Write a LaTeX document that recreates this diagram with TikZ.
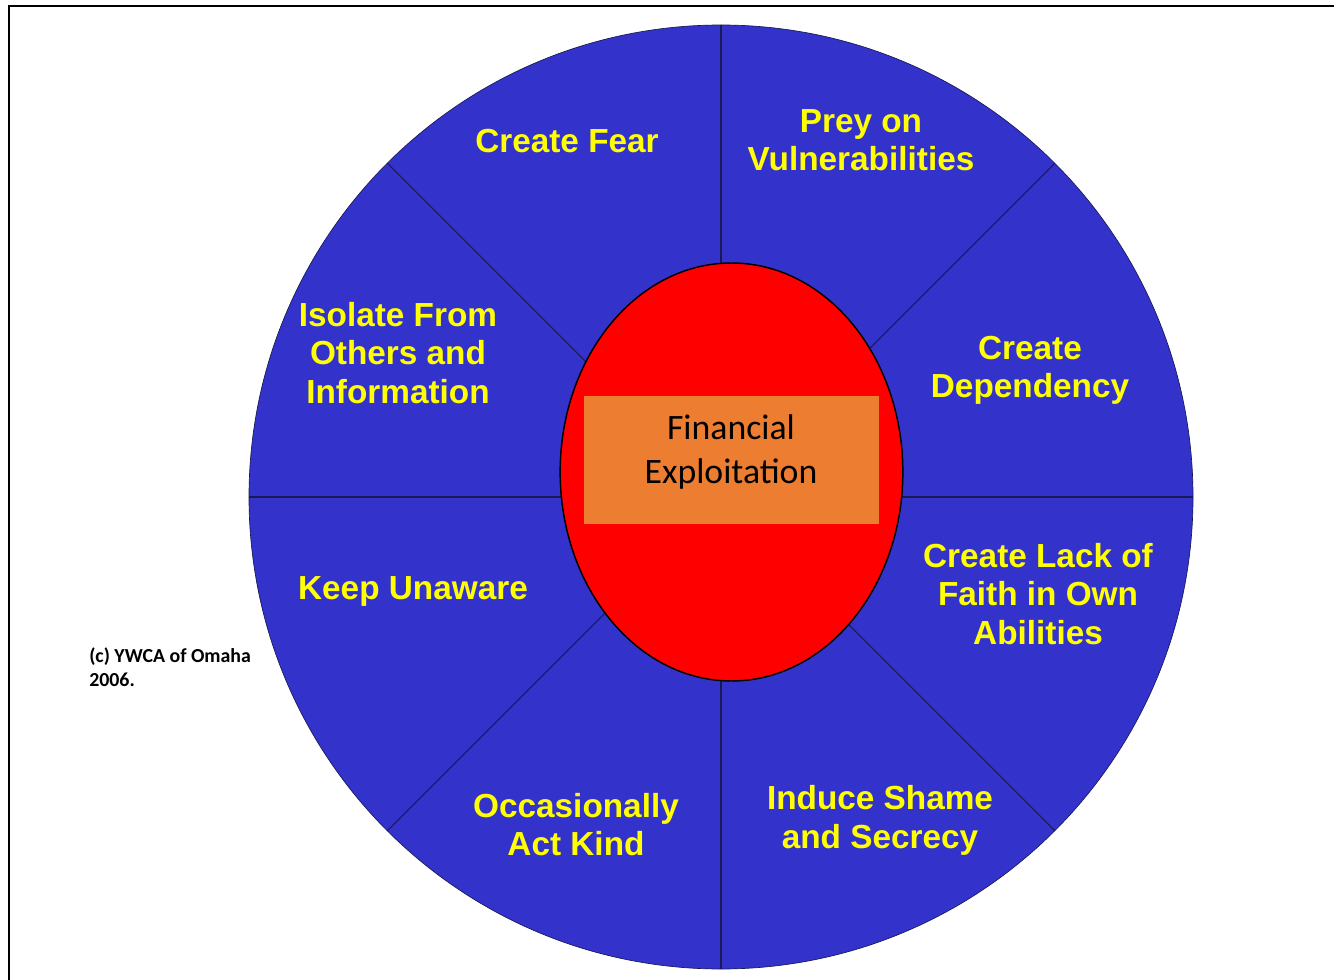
\documentclass[tikz,border=0pt]{standalone}
\usepackage{fontspec}
\setmainfont{Carlito}
\newfontfamily\wheelfont{Liberation Sans}
\usetikzlibrary{shapes.geometric}
\definecolor{wheelblue}{RGB}{51,51,204}
\definecolor{spokenavy}{RGB}{25,25,85}
\definecolor{hubred}{RGB}{255,0,0}
\definecolor{coreorange}{RGB}{237,125,49}
\definecolor{labyellow}{RGB}{255,255,0}
\tikzset{
  rim/.style={fill=wheelblue, draw=spokenavy, line width=0.5pt},
  spoke/.style={spokenavy, line width=0.8pt},
  hub/.style={ellipse, fill=hubred, draw=black, line width=1.1pt,
    minimum width=257pt, minimum height=313.5pt, inner sep=0pt},
  core/.style={rectangle, fill=coreorange, minimum width=221.25pt,
    minimum height=96pt, inner sep=0pt},
  coretxt/.style={align=center, inner sep=0pt, font=\fontsize{26.8}{33}\selectfont},
  wlab/.style={text=labyellow, align=center, inner sep=0pt,
    font=\wheelfont\bfseries\fontsize{25}{28.9}\selectfont},
  note/.style={align=left, anchor=north west, inner sep=0pt,
    font=\bfseries\fontsize{14.9}{18}\selectfont},
}

\begin{document}
\begin{tikzpicture}[x=0.75pt, y=-0.75pt]
\useasboundingbox[fill=white] (0,0) rectangle (1334,980);
% slide frame, runs off the page on the right and bottom
\draw[line width=1.5pt] (9,6) rectangle (1345,995);
% the wheel
\coordinate (ctr) at (721,497);
\fill[rim] (ctr) circle[radius=354pt];
\foreach \a in {0,45,...,315}
  \draw[spoke] (ctr) -- ++(\a:354pt);
\node[hub] (hub) at (731.5,472) {};
\node[core] (core) at (731.5,460) {};
\node[coretxt] (fin) at (731,452) {Financial\\Exploitation};
% spokes labels, clockwise from the top
\node[wlab] (fear) at (567,141) {Create Fear};
\node[wlab] (prey) at (861,140) {Prey on\\Vulnerabilities};
\node[wlab] (dep) at (1030,370.5) {Create\\Dependency};
\node[wlab] (faith) at (1038,594) {Create Lack of\\Faith in Own\\Abilities};
\node[wlab] (shame) at (880,820.5) {Induce Shame\\and Secrecy};
\node[wlab] (kind) at (576,824.5) {Occasionally\\Act Kind};
\node[wlab] (unaware) at (413,591) {Keep Unaware};
\node[wlab] (isolate) at (398,353) {Isolate From\\Others and\\Information};
\node[note] (ywca) at (89,647) {(c) YWCA of Omaha\\2006.};
\end{tikzpicture}
\end{document}
